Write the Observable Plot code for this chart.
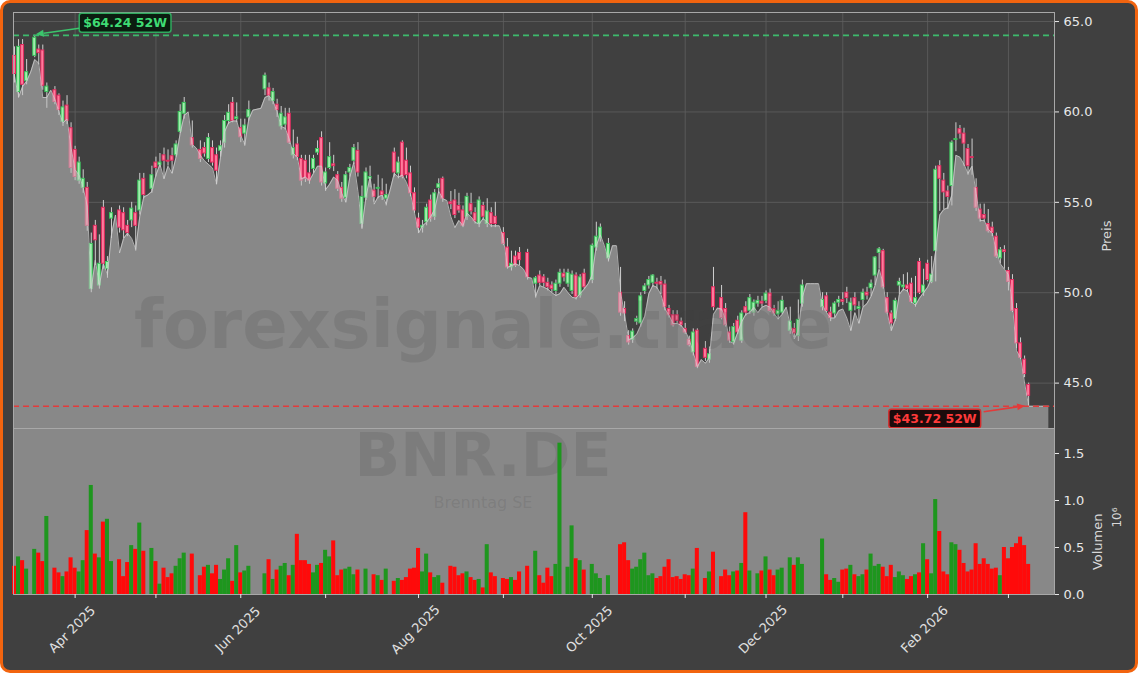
<!DOCTYPE html>
<html><head><meta charset="utf-8">
<script src="https://cdn.jsdelivr.net/npm/d3@7"></script>
<script src="https://cdn.jsdelivr.net/npm/@observablehq/plot@0.6"></script>
<style>
html,body{margin:0;padding:0;background:#ffffff;}
#wrap{position:relative;width:1138px;height:673px;box-sizing:border-box;border:3px solid #f2640f;border-radius:10px;background:#404040;}
#wrap svg{position:absolute;left:-3px;max-width:none !important;overflow:visible;}
</style></head>
<body><div id="wrap"></div>
<script>
// ---- x axis: trading-day index of the first session of each month ----
const monthTicks  = [15, 35, 56, 77, 100, 121, 143, 166, 186, 205, 226, 246];
const monthLabels = ["Apr 2025", "", "Jun 2025", "", "Aug 2025", "", "Oct 2025", "", "Dec 2025", "", "Feb 2026", ""];
const priceTicks  = [45, 50, 55, 60, 65];
const volumeTicks = [0, 0.5, 1.0, 1.5];

// ---- shaded price profile (one value per session, incl. trailing sessions) ----
const area = [
62.0,60.8,61.4,61.7,62.2,62.9,62.7,60.8,60.8,61.2,
60.7,60.0,59.4,59.6,58.0,56.8,56.5,55.8,54.8,50.2,
51.8,50.4,51.6,51.0,53.2,54.3,52.2,53.0,53.3,53.0,
52.4,54.2,55.3,55.4,55.6,56.5,57.1,56.3,57.0,56.6,
57.5,58.8,59.8,60.0,58.2,58.0,57.6,57.3,57.1,56.9,
56.0,57.5,58.9,59.4,59.5,59.5,58.7,58.2,59.6,60.1,
60.15,60.2,60.8,60.9,60.6,60.0,59.2,59.1,58.5,57.7,
57.5,56.3,56.4,56.2,56.6,57.0,57.0,55.7,56.0,56.4,
56.2,55.5,55.0,56.4,57.2,55.6,53.6,55.3,56.4,54.9,
55.3,55.4,54.9,55.7,56.6,56.4,56.5,56.1,55.5,54.4,
53.3,53.7,53.9,54.2,54.6,55.6,55.2,55.1,54.2,53.6,
54.0,53.7,54.4,54.2,53.9,53.8,54.1,53.9,53.7,53.7,
53.7,53.0,51.4,51.5,51.6,51.5,51.3,50.85,50.8,49.8,
50.4,50.3,50.2,50.0,49.85,49.95,50.3,50.0,49.75,49.7,
49.95,50.2,50.5,51.0,52.6,53.2,52.6,51.8,52.6,52.6,
50.0,48.8,47.4,47.5,47.7,48.2,48.7,49.95,50.4,50.3,
49.9,49.1,48.75,48.3,48.3,48.2,47.9,47.4,46.7,45.9,
46.3,46.1,46.4,48.8,49.15,49.1,48.5,47.3,47.2,47.8,
48.4,48.8,48.9,49.2,48.9,49.2,49.3,49.2,48.85,48.55,
48.8,49.2,48.2,47.45,47.9,49.75,50.5,50.5,50.5,50.5,
49.3,48.9,48.6,48.6,49.0,49.1,48.6,47.9,48.9,48.3,
49.2,49.4,49.8,50.4,51.3,50.5,48.85,47.9,48.5,49.9,
50.2,50.1,49.5,49.3,49.7,50.0,50.3,50.8,52.3,54.3,
54.6,54.7,55.4,57.6,57.5,57.1,56.6,57.0,55.5,54.0,
54.0,53.5,53.3,52.3,51.6,51.3,51.0,49.3,46.8,46.4,
45.0,43.72,43.72,43.72,43.72,43.72,43.72
];

// ---- OHLC per session (null = no data) ----
const open = [
63.1,61.1,63.7,61.7,null,63.1,63.45,63.4,61.1,null,
61.2,60.9,59.45,60.35,59.1,57.9,56.2,55.8,55.8,50.2,
53.7,50.4,54.7,51.3,54.1,null,54.55,54.4,53.7,54.0,
54.4,54.55,56.3,null,55.75,57.2,57.05,57.6,57.3,57.55,
57.6,58.9,59.9,null,58.55,null,57.9,58.0,57.4,58.0,
57.6,57.85,58.3,59.5,60.5,59.6,59.1,58.8,59.7,null,
null,null,61.25,61.3,60.6,60.4,59.2,59.3,59.9,57.6,
58.2,57.4,57.3,56.6,56.85,57.75,58.55,56.05,56.9,57.1,
56.5,55.8,55.25,56.65,57.3,57.85,53.8,55.25,56.3,55.65,
55.75,55.6,55.2,null,57.75,56.6,58.3,57.3,56.6,55.5,
54.1,53.6,53.9,55.1,54.2,55.8,56.3,null,55.0,55.1,
54.8,54.55,54.2,54.9,54.4,53.8,54.8,53.8,54.4,54.2,
null,53.3,52.5,51.4,52.0,52.2,null,52.2,null,50.5,
50.95,50.85,50.55,50.4,50.1,50.5,51.05,50.5,50.1,50.95,
49.85,51.05,null,50.7,52.5,53.0,null,51.9,null,null,
50.0,49.1,47.6,47.4,48.4,48.3,50.1,50.4,50.55,50.55,
50.6,50.45,49.1,48.75,48.75,48.4,48.0,47.4,46.7,47.9,
null,46.9,46.3,50.3,null,49.7,49.1,47.8,47.25,48.45,
47.35,49.2,49.0,48.9,49.4,49.5,49.55,49.95,49.1,48.8,
48.9,null,47.9,48.0,47.6,49.4,null,null,null,null,
49.2,49.8,48.9,48.85,49.45,49.6,50.0,49.0,49.7,49.1,
49.6,50.0,50.25,50.95,52.2,52.3,49.7,48.85,48.55,50.4,
50.3,50.4,50.5,49.4,51.7,50.0,51.6,50.6,52.3,57.0,
56.2,55.6,55.9,58.45,59.05,58.8,57.95,57.5,55.8,54.6,
54.3,53.8,53.6,53.1,51.9,52.35,51.2,50.7,49.1,47.2,
46.3,44.9
];
const high = [
63.6,64.0,64.0,62.9,null,64.24,63.7,63.7,61.6,null,
61.4,61.0,60.6,60.9,59.4,58.1,57.5,56.8,56.1,53.3,
54.0,53.2,55.1,52.0,54.7,null,54.8,54.7,54.0,55.0,
54.8,56.6,56.6,null,57.0,57.5,57.7,58.0,57.9,58.0,
58.4,60.4,60.8,null,59.5,null,58.4,58.3,58.8,58.4,
58.0,58.4,59.8,60.4,60.8,60.5,59.6,59.6,60.6,null,
null,null,62.15,61.6,61.3,60.7,60.3,60.2,60.2,59.0,
58.6,57.6,57.6,57.6,57.6,58.4,58.9,56.9,58.3,57.6,
56.7,56.1,56.7,57.1,58.2,58.3,55.9,56.9,57.0,56.0,
56.5,56.3,56.0,null,58.0,57.5,58.4,58.0,57.0,55.8,
54.4,54.0,54.9,55.4,55.7,56.3,56.4,null,55.6,55.7,
55.5,54.8,55.5,55.5,54.7,55.3,55.0,55.2,54.7,55.0,
null,53.6,53.0,52.3,52.3,52.5,null,52.4,null,50.9,
51.2,51.0,50.8,50.6,50.7,51.3,51.3,51.3,51.2,51.1,
51.0,51.3,null,52.7,53.9,53.8,null,53.0,null,null,
51.4,49.5,47.9,48.0,48.7,50.0,50.5,50.9,51.0,50.8,
50.9,50.7,49.3,49.0,49.0,48.6,48.3,47.6,48.0,48.0,
null,47.3,47.0,51.4,null,50.4,49.4,48.1,48.3,48.7,
49.0,49.5,49.9,49.6,49.8,49.8,50.1,50.2,49.3,49.5,
49.8,null,49.2,48.3,49.6,50.7,null,null,null,null,
50.0,50.0,49.2,49.5,49.8,50.0,50.3,49.7,50.0,49.5,
50.2,50.3,50.7,52.0,52.5,52.4,50.0,49.0,49.7,50.8,
51.0,51.1,50.8,50.9,51.9,51.3,51.8,52.0,57.0,57.3,
56.6,55.9,58.4,59.4,59.25,59.1,58.2,58.5,56.3,54.9,
54.9,54.6,53.9,53.3,52.5,52.6,51.4,51.0,49.4,47.5,
46.5,45.0
];
const low = [
61.6,60.8,60.9,61.5,null,63.0,62.6,61.2,60.2,null,
60.4,59.8,59.2,59.3,56.6,56.2,56.0,55.5,53.4,50.0,
51.5,50.2,51.3,50.8,53.0,null,53.3,53.0,53.1,53.6,
52.3,54.3,55.2,null,55.5,56.4,56.9,56.3,57.0,56.6,
57.5,58.8,59.6,null,58.0,null,57.2,57.5,57.2,57.0,
56.0,57.5,58.0,59.3,59.4,59.4,58.3,58.1,59.5,null,
null,null,60.9,60.6,60.4,59.7,59.0,59.0,58.2,57.4,
57.3,55.9,56.1,56.0,56.6,57.6,55.9,55.6,56.8,56.7,
55.6,55.0,55.0,56.4,57.1,56.4,53.5,55.1,55.8,55.0,
55.2,55.1,54.8,null,56.4,56.3,56.3,56.3,55.3,54.4,
53.3,53.3,53.7,53.9,54.0,55.5,55.0,null,54.6,54.1,
54.4,53.6,54.0,54.3,53.8,53.6,54.0,53.6,53.6,53.6,
null,52.6,51.3,51.2,51.4,51.5,null,50.7,null,49.7,
50.4,50.3,50.1,50.0,49.8,50.3,50.6,50.3,49.9,49.6,
49.7,50.2,null,50.5,52.3,52.8,null,51.7,null,null,
48.7,48.4,47.1,47.2,48.2,48.1,49.9,50.2,50.3,50.2,
49.9,49.0,48.6,48.1,48.3,48.1,47.7,47.0,46.5,45.8,
null,46.2,46.1,49.0,null,48.5,48.1,47.2,47.1,47.7,
47.2,48.7,48.8,48.7,49.2,49.2,49.4,48.9,48.7,48.5,
48.8,null,47.7,47.5,47.3,49.2,null,null,null,null,
49.0,48.9,48.4,48.6,49.2,49.3,49.4,47.9,49.0,48.3,
49.2,49.6,49.8,50.4,51.3,50.2,48.8,47.9,48.4,49.9,
50.1,50.0,49.4,49.2,49.9,49.8,50.6,50.5,50.6,54.5,
54.6,54.6,54.8,57.8,58.5,57.0,56.5,56.5,54.5,53.9,
53.9,53.3,53.1,51.9,51.6,51.3,50.1,48.9,46.9,46.3,
45.3,43.72
];
const close = [
62.1,63.6,61.5,62.2,null,64.1,63.25,61.45,61.4,null,
60.55,60.1,60.25,59.5,56.9,56.4,57.2,56.3,53.7,52.7,
52.9,51.6,51.6,51.7,54.4,null,53.6,53.45,53.3,54.65,
53.7,56.2,55.4,null,56.5,56.9,57.2,57.3,57.25,57.3,
58.2,60.0,60.5,null,58.15,null,57.4,57.7,58.55,57.2,
56.75,58.1,59.5,59.95,59.5,59.7,58.6,59.25,60.1,null,
null,null,62.0,60.9,61.1,60.1,59.9,59.7,58.3,58.0,
57.5,56.2,56.3,56.2,57.4,57.95,56.1,56.65,57.5,57.0,
55.75,55.2,56.5,56.9,58.0,56.65,55.3,56.65,56.4,55.3,
55.8,55.4,55.4,null,56.65,57.2,56.4,56.5,55.5,54.55,
53.6,53.7,54.7,54.1,55.5,56.0,55.2,null,54.9,54.3,
54.55,53.7,55.3,54.5,53.95,55.1,54.2,54.5,53.8,53.8,
null,52.7,51.4,51.6,51.5,51.8,null,50.85,null,50.8,
50.55,50.55,50.3,50.2,50.5,51.1,50.85,51.1,51.0,49.75,
50.85,50.3,null,52.6,53.1,53.6,null,52.7,null,null,
48.9,48.85,47.25,47.85,48.55,49.8,50.35,50.7,50.95,50.5,
50.45,49.2,48.75,48.2,48.45,48.2,47.8,47.1,47.8,45.9,
null,46.4,46.6,49.2,null,48.6,48.2,47.35,48.1,47.8,
48.85,48.9,49.7,49.45,49.55,49.4,49.95,49.0,48.85,49.0,
49.55,null,48.4,47.75,48.5,50.4,null,null,null,null,
49.6,49.0,48.6,49.4,49.6,49.5,49.7,49.45,49.3,49.2,
50.0,49.85,50.5,51.95,52.4,50.3,48.9,48.3,49.55,50.6,
50.4,50.2,49.5,49.7,50.0,50.4,50.7,51.0,56.8,56.3,
55.55,55.3,58.3,58.5,58.8,58.25,57.0,57.45,54.7,54.1,
54.1,53.4,53.3,52.0,52.35,52.25,50.6,49.0,47.2,46.4,
45.5,44.3
];
// ---- volume in millions (null = none) ----
const volume = [
0.30,0.40,0.36,0.27,null,0.48,0.44,0.35,0.83,null,
0.28,0.23,0.19,0.24,0.39,0.28,0.24,0.36,0.68,1.16,
0.43,0.39,0.77,0.80,0.35,null,0.37,0.19,0.34,0.52,
0.48,0.76,0.46,null,0.49,0.35,0.11,0.28,0.18,0.22,
0.30,0.38,0.44,null,0.43,null,0.20,0.29,0.31,0.22,
0.31,0.16,0.26,0.38,0.14,0.52,0.23,0.25,0.30,null,
null,null,0.22,0.37,0.16,0.26,0.30,0.33,0.20,0.31,
0.64,0.36,0.36,0.32,0.23,0.31,0.33,0.47,0.40,0.57,
0.20,0.26,0.27,0.29,0.21,0.26,null,0.27,null,0.21,
0.20,0.15,0.27,null,0.14,0.17,0.15,0.18,0.27,0.28,
0.49,0.24,0.43,0.23,0.18,0.20,0.12,null,0.30,0.29,
0.20,0.22,0.24,0.18,0.15,0.16,0.07,0.53,0.23,0.19,
null,0.17,0.16,0.18,0.15,0.24,null,0.30,null,0.46,
0.20,0.12,0.28,0.19,0.32,1.61,null,0.29,0.73,0.38,
0.36,0.26,null,0.32,0.22,0.17,null,0.20,null,null,
0.53,0.55,0.36,0.27,0.29,0.37,0.44,0.20,0.22,0.17,
0.19,0.29,0.37,0.18,0.19,0.16,0.21,0.20,0.27,0.49,
null,0.17,0.24,0.45,null,0.19,0.26,0.20,0.24,0.25,
0.33,0.87,0.25,null,0.22,0.25,0.40,0.26,0.20,0.26,
0.28,null,0.39,0.31,0.39,0.32,null,null,null,null,
0.59,0.21,0.15,0.17,0.13,0.26,0.27,0.31,0.21,0.19,
0.21,0.26,0.43,0.30,0.32,0.29,0.19,0.31,0.18,0.24,
0.20,0.16,0.19,0.21,0.23,0.54,0.37,0.22,1.01,0.67,
0.24,0.21,0.55,0.53,0.47,0.33,0.24,0.26,0.54,0.32,
0.38,0.32,0.27,0.28,0.20,0.50,0.38,0.50,0.54,0.61,
0.52,0.32
];

// ---- derived tables ----
const areaRows = area.map((p, i) => ({i, p}));
const candles = open.map((o, i) => o == null ? null : ({i, open: o, high: high[i], low: low[i], close: close[i], up: close[i] >= o})).filter(d => d);
const volRows = volume.map((v, i) => v == null ? null : ({i, v, up: close[i] >= open[i]})).filter(d => d);
const monthRows = monthTicks.map((t, k) => ({i: t, label: monthLabels[k]})).filter(d => d.label);
const hiIdx = d3.maxIndex(high), hi = high[hiIdx];
const loIdx = d3.minIndex(low), lo = low[loIdx];

const yMin = 42.49, yMax = 65.5;
const xScale = {type: "linear", domain: [-0.25, 257.4], axis: null};
const baseStyle = {background: "transparent", color: "#e8e8e8", fontFamily: "DejaVu Sans, sans-serif", fontSize: "13px", overflow: "visible"};
const FONT = "DejaVu Sans, sans-serif";

const pricePlot = Plot.plot({
  width: 1138, height: 428, marginLeft: 13, marginRight: 84, marginTop: 12, marginBottom: 0,
  style: baseStyle,
  x: xScale,
  y: {domain: [yMin, yMax], axis: null},
  color: {type: "identity"},
  marks: [
    Plot.ruleY(priceTicks, {stroke: "#606060", strokeWidth: 0.8}),
    Plot.ruleX(monthTicks, {stroke: "#606060", strokeWidth: 0.8}),
    Plot.areaY(areaRows, {x: "i", y1: yMin, y2: "p", fill: "#404040"}),
    Plot.ruleX(candles, {x: "i", y1: "low", y2: "high", stroke: "#cfcfcf", strokeWidth: 1}),
    Plot.rect(candles, {x1: d => d.i - 0.37, x2: d => d.i + 0.37, y1: "open", y2: "close",
      fill: d => d.up ? "#a2eeae" : "#ff7b9c", stroke: d => d.up ? "#3ac25b" : "#e02a5e", strokeWidth: 1}),
    Plot.areaY(areaRows, {x: "i", y1: yMin, y2: "p", fill: "#c0c0c0", fillOpacity: 0.56}),
    Plot.line(areaRows, {x: "i", y: "p", stroke: "#d0d0d0", strokeWidth: 1, strokeOpacity: 0.75}),
    Plot.text(["forexsignale.trade"], {text: d => d, frameAnchor: "middle", dx: -51, dy: 106, fontSize: 67, fontWeight: "bold", fill: "#383838", fillOpacity: 0.14}),
    Plot.ruleY([hi], {stroke: "#3dba6c", strokeWidth: 1.7, strokeDasharray: "6,4"}),
    Plot.ruleY([lo], {stroke: "#e23b3b", strokeWidth: 1.7, strokeDasharray: "6,4"}),
    Plot.frame({stroke: "#a8a8a8"}),
    Plot.axisY({anchor: "right", ticks: priceTicks, tickFormat: d => d.toFixed(1), tickSize: 4, tickPadding: 5, label: null}),
    Plot.text(["Preis"], {text: d => d, frameAnchor: "right", dx: 52, rotate: -90, fill: "#d8d8d8", fontSize: 13})
  ]
});

const volPlot = Plot.plot({
  width: 1138, height: 245, marginLeft: 13, marginRight: 84, marginTop: 0, marginBottom: 79,
  style: baseStyle,
  x: xScale,
  y: {domain: [0, 1.766], axis: null},
  color: {type: "identity"},
  marks: [
    Plot.frame({fill: "#888888"}),
    Plot.text(["BNR.DE"], {text: d => d, frameAnchor: "middle", dx: -51, dy: -55, fontSize: 60, fontWeight: "bold", fill: "#383838", fillOpacity: 0.14}),
    Plot.text(["Brenntag SE"], {text: d => d, frameAnchor: "middle", dx: -51, dy: -9, fontSize: 16, fill: "#383838", fillOpacity: 0.14}),
    Plot.rectY(volRows, {x1: d => d.i - 0.5, x2: d => d.i + 0.5, y: "v", fill: d => d.up ? "#1e961e" : "#ff0a0a"}),
    Plot.frame({stroke: "#a8a8a8"}),
    Plot.axisY({anchor: "right", ticks: volumeTicks, tickFormat: d => d.toFixed(1), tickSize: 4, tickPadding: 5, label: null}),
    Plot.axisX({ticks: monthTicks, tickFormat: () => "", tickSize: 4, label: null}),
    Plot.text(monthRows, {x: "i", text: "label", frameAnchor: "bottom", dy: 38, rotate: -45, fill: "#e0e0e0", fontSize: 13}),
    Plot.text(["Volumen"], {text: d => d, frameAnchor: "right", dx: 43, dy: 2, rotate: -90, fill: "#d8d8d8", fontSize: 13}),
    Plot.text(["10\u2076"], {text: d => d, frameAnchor: "right", dx: 63, dy: -4, rotate: -90, fill: "#d8d8d8", fontSize: 12})
  ]
});

const wrap = document.getElementById("wrap");
pricePlot.style.top = "-3px";
volPlot.style.top = "425px";
wrap.appendChild(pricePlot);
wrap.appendChild(volPlot);

// ---- 52W annotations, placed through the plot's own scales ----
const sx = pricePlot.scale("x"), sy = pricePlot.scale("y");
const g = d3.select(pricePlot).append("g").attr("text-anchor", "start");

function arrow(x1, y1, x2, y2, color) {
  const a = Math.atan2(y2 - y1, x2 - x1), L = 8, W = 3.5;
  const bx = x2 - L * Math.cos(a), by = y2 - L * Math.sin(a);
  g.append("line").attr("x1", x1).attr("y1", y1).attr("x2", bx).attr("y2", by)
    .attr("stroke", color).attr("stroke-width", 1.6);
  g.append("path").attr("d", `M${x2},${y2}L${bx - W * Math.sin(a)},${by + W * Math.cos(a)}L${bx + W * Math.sin(a)},${by - W * Math.cos(a)}Z`)
    .attr("fill", color);
}
function textNode(txt) {
  return g.append("text").text(txt).attr("text-anchor", "start").attr("font-weight", "bold")
    .attr("font-size", "12.5px").attr("font-family", FONT);
}
function boxWidth(txt) {
  const t = textNode(txt); const w = t.node().getComputedTextLength() + 8; t.remove(); return w;
}
function box(x0, y0, h, txt, color, border, bg) {
  const w = boxWidth(txt);
  g.append("rect").attr("x", x0).attr("y", y0).attr("width", w).attr("height", h).attr("rx", 2.5)
    .attr("fill", bg).attr("stroke", border).attr("stroke-width", 1.5);
  textNode(txt).attr("x", x0 + 4).attr("y", y0 + h / 2 + 4.5).attr("fill", color);
  return w;
}
// high
const hx = sx.apply(hiIdx), hy = sy.apply(hi);
const hTxt = "$" + hi.toFixed(2) + " 52W";
const hb = {x: hx + 45, y: hy - 21.5};
box(hb.x, hb.y, 19, hTxt, "#3fdc74", "#2faa5e", "#0b1d10");
arrow(hb.x, hb.y + 15, hx + 1.5, hy - 0.5, "#3cc46c");
// low
const lx = sx.apply(loIdx), ly = sy.apply(lo);
const lTxt = "$" + lo.toFixed(2) + " 52W";
const lw = boxWidth(lTxt);
const lb = {x: lx - 47.5 - lw, y: ly + 3.5};
box(lb.x, lb.y, 18.5, lTxt, "#ff3a3a", "#d42c2c", "#1c0b0b");
arrow(lb.x + lw + 3, lb.y + 2.5, lx - 3, ly, "#e33a3a");
</script>
</body></html>
